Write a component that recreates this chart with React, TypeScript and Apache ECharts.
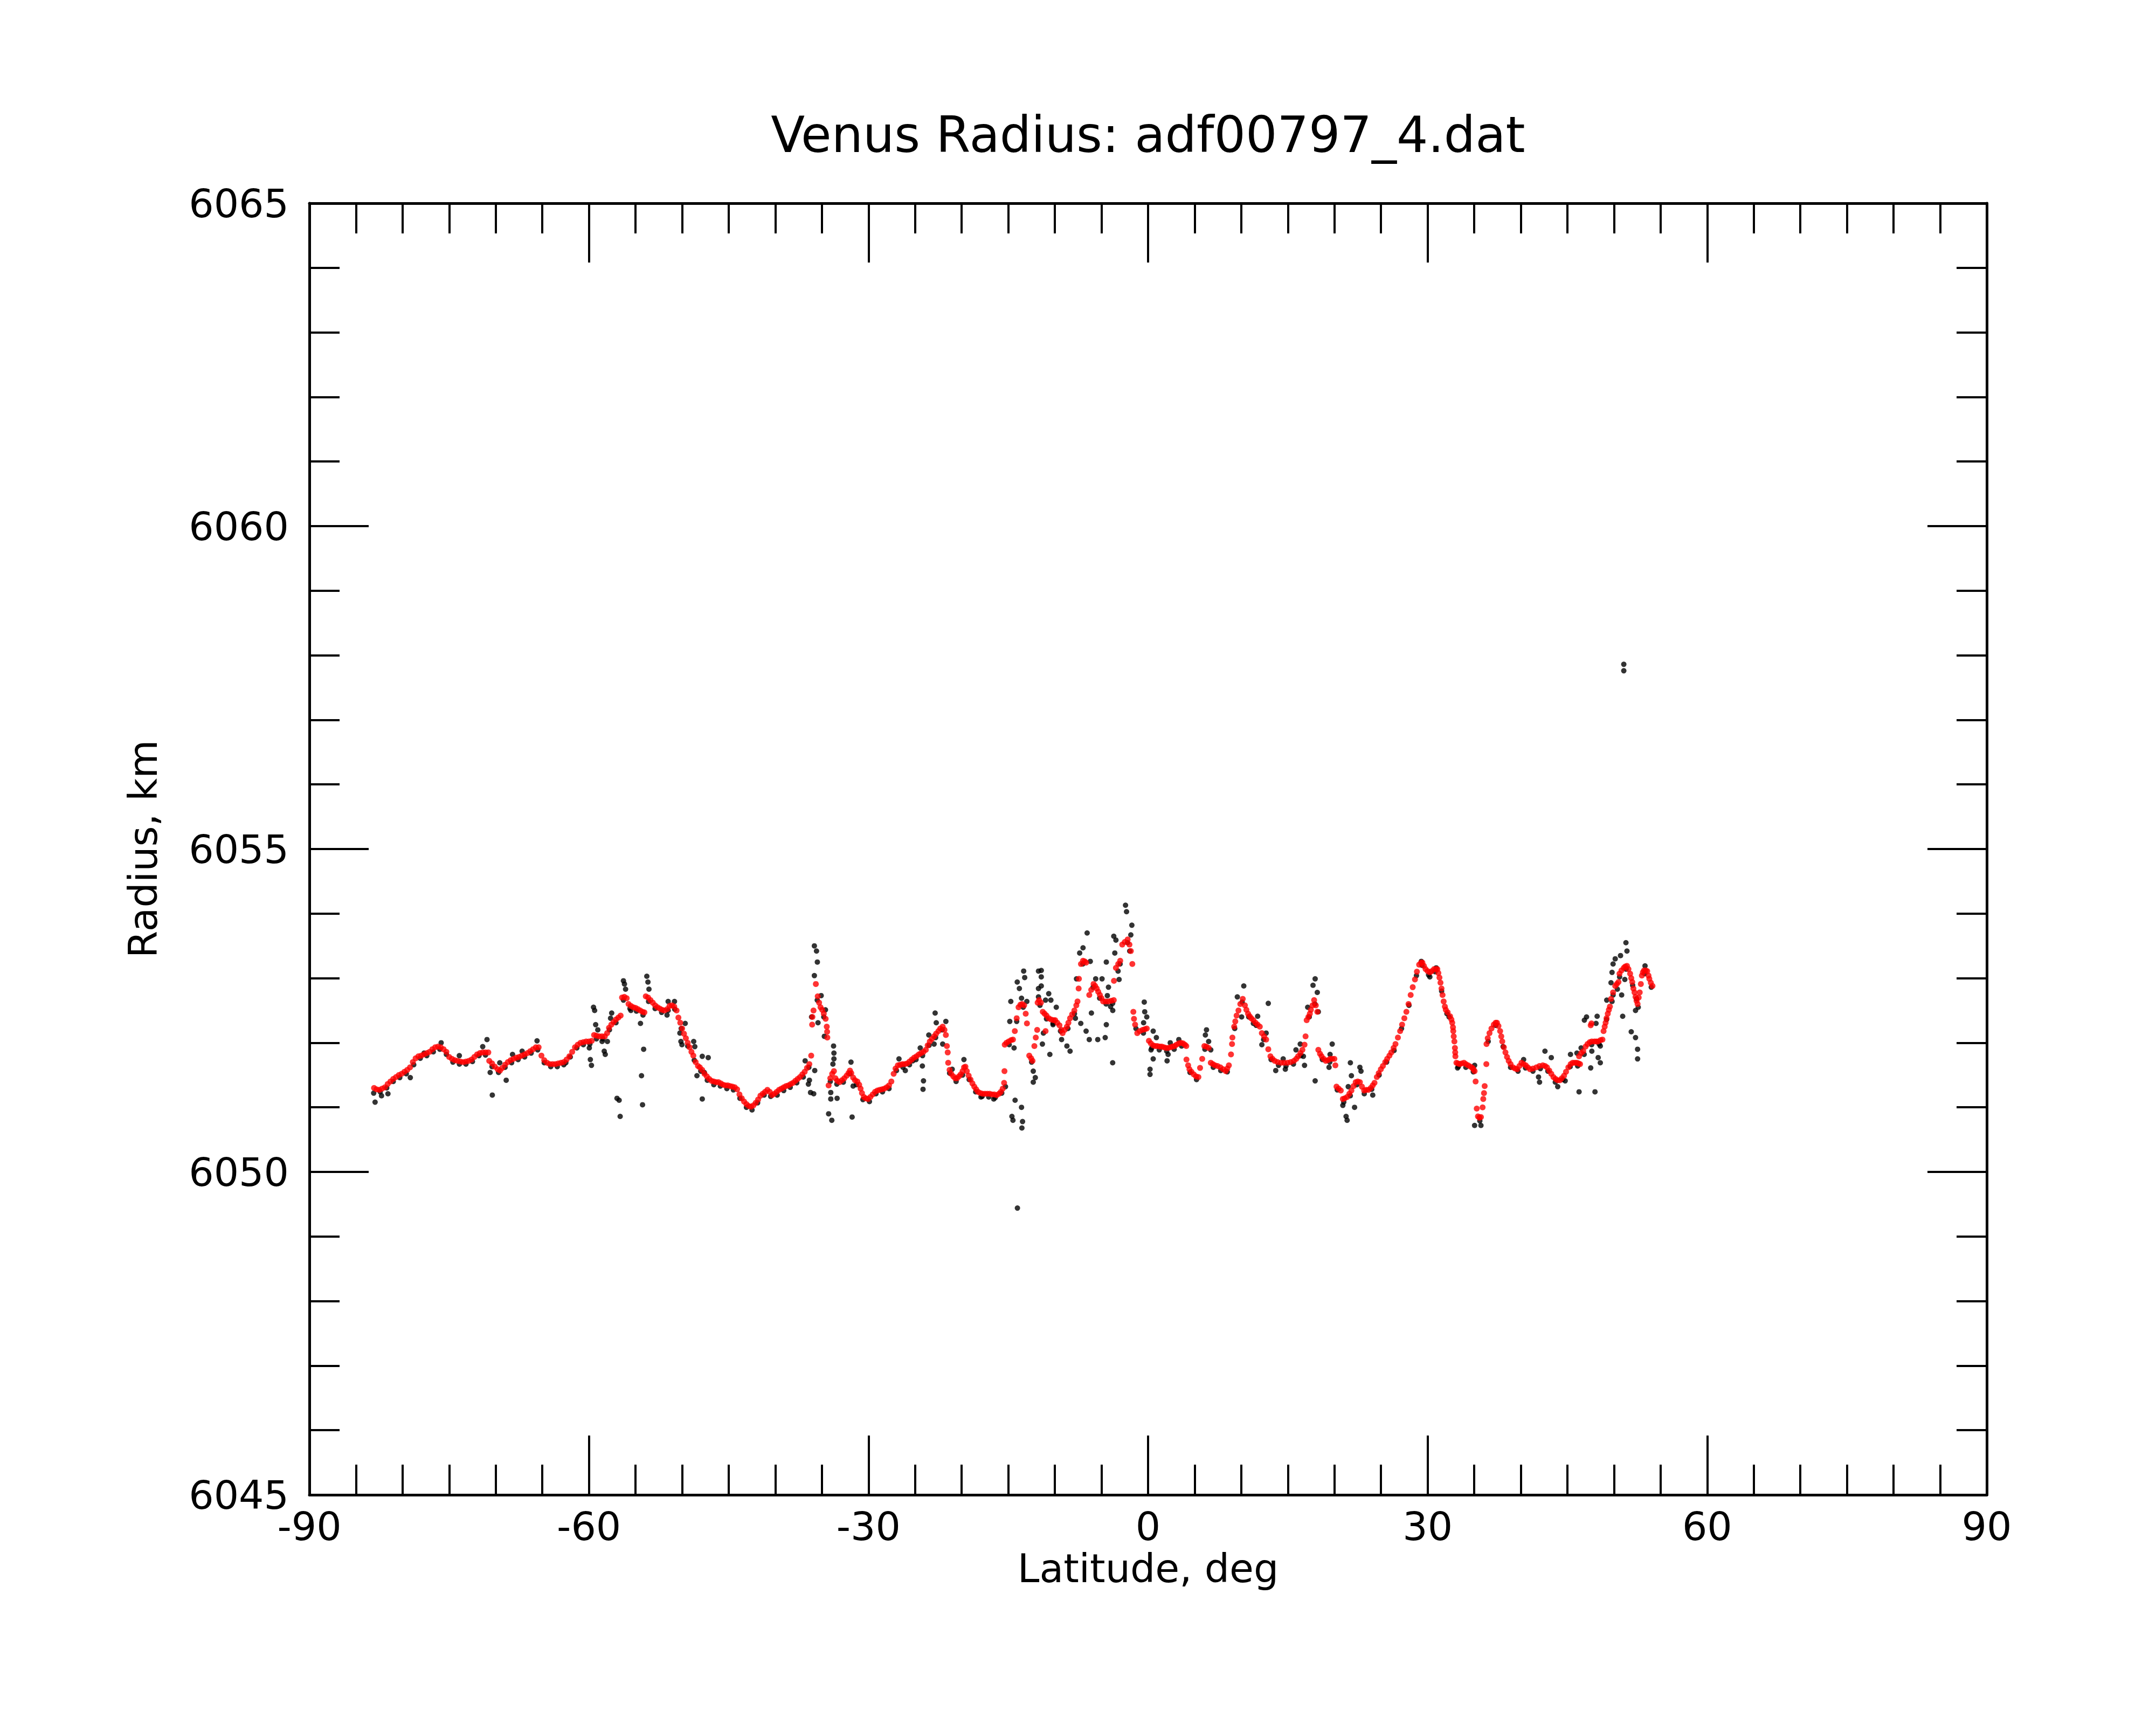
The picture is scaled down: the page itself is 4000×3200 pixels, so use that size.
import React, { useEffect, useRef } from "react";
import * as echarts from "echarts";

const W = 4000;
const H = 3200;
const FONT = '"DejaVu Sans", "Liberation Sans", sans-serif';

const chartTitle = "Venus Radius: adf00797_4.dat";
const xName = "Latitude, deg";
const yName = "Radius, km";
const xTicks = { min: -90, max: 90, step: 30, minorSplit: 6 };
const yTicks = { min: 6045, max: 6065, step: 5, minorSplit: 5 };

// Smoothed profile (red): [latitude, radius]
const redA: [number, number][] = [
  [-83.06, 6051.3], [-82.8, 6051.28], [-82.5, 6051.27], [-82.2, 6051.29], [-81.9, 6051.31], [-81.6, 6051.36],
  [-81.3, 6051.4], [-81.0, 6051.44], [-80.7, 6051.47], [-80.4, 6051.5], [-80.1, 6051.52], [-79.8, 6051.55],
  [-79.5, 6051.58], [-79.2, 6051.62], [-78.9, 6051.7], [-78.6, 6051.76], [-78.3, 6051.79], [-78.0, 6051.8],
  [-77.7, 6051.82], [-77.4, 6051.84], [-77.1, 6051.86], [-76.8, 6051.9], [-76.5, 6051.93], [-76.2, 6051.94],
  [-75.9, 6051.93], [-75.6, 6051.9], [-75.3, 6051.86], [-75.0, 6051.78], [-74.7, 6051.75], [-74.4, 6051.73],
  [-74.1, 6051.72], [-73.8, 6051.71], [-73.5, 6051.7], [-73.2, 6051.71], [-72.9, 6051.72], [-72.6, 6051.74],
  [-72.3, 6051.78], [-72.0, 6051.82], [-71.7, 6051.84], [-71.4, 6051.85], [-71.1, 6051.85], [-70.8, 6051.85],
  [-70.7, 6051.72], [-70.4, 6051.68], [-70.1, 6051.63], [-69.8, 6051.59], [-69.55, 6051.57], [-69.3, 6051.61],
  [-69.0, 6051.66], [-68.7, 6051.7], [-68.4, 6051.73], [-68.1, 6051.75], [-67.8, 6051.77], [-67.5, 6051.78],
  [-67.2, 6051.8], [-66.9, 6051.82], [-66.6, 6051.84], [-66.3, 6051.87], [-66.0, 6051.9], [-65.7, 6051.93],
  [-65.4, 6051.93], [-65.1, 6051.8], [-64.8, 6051.73], [-64.5, 6051.69], [-64.2, 6051.67], [-63.9, 6051.67],
  [-63.6, 6051.67], [-63.3, 6051.68], [-63.0, 6051.69], [-62.7, 6051.7], [-62.4, 6051.74], [-62.1, 6051.79],
  [-61.8, 6051.86], [-61.5, 6051.93], [-61.2, 6051.97], [-60.9, 6052.0], [-60.6, 6052.01], [-60.3, 6052.02],
  [-60.0, 6052.02], [-59.7, 6052.03], [-59.45, 6052.12], [-59.2, 6052.11], [-58.9, 6052.1], [-58.6, 6052.1],
  [-58.3, 6052.1], [-58.05, 6052.15], [-57.85, 6052.23], [-57.6, 6052.28], [-57.35, 6052.32], [-57.1, 6052.36],
  [-56.85, 6052.39], [-56.6, 6052.42], [-56.45, 6052.7], [-56.2, 6052.71], [-55.95, 6052.69], [-55.75, 6052.6],
  [-55.5, 6052.57], [-55.25, 6052.55], [-55.0, 6052.54], [-54.75, 6052.52], [-54.5, 6052.5], [-54.25, 6052.48],
  [-54.05, 6052.47], [-53.9, 6052.72], [-53.65, 6052.7], [-53.4, 6052.66], [-53.15, 6052.62], [-52.9, 6052.58],
  [-52.65, 6052.55], [-52.4, 6052.53], [-52.15, 6052.51], [-51.9, 6052.5], [-51.6, 6052.52], [-51.35, 6052.57],
  [-51.1, 6052.58], [-50.85, 6052.56], [-50.6, 6052.5], [-50.4, 6052.39], [-50.2, 6052.31], [-50.0, 6052.22],
  [-49.8, 6052.14], [-49.6, 6052.07], [-49.4, 6052.0], [-49.2, 6051.93], [-49.0, 6051.86], [-48.8, 6051.8],
  [-48.55, 6051.7], [-48.3, 6051.64],
];

const redB: [number, number][] = [
  [-48.1, 6051.62], [-47.85, 6051.58], [-47.6, 6051.52], [-47.35, 6051.48], [-47.1, 6051.44], [-46.85, 6051.41],
  [-46.6, 6051.4], [-46.35, 6051.39], [-46.1, 6051.39], [-45.85, 6051.37], [-45.6, 6051.35], [-45.35, 6051.34],
  [-45.1, 6051.34], [-44.85, 6051.33], [-44.6, 6051.32], [-44.35, 6051.31], [-44.1, 6051.28], [-43.85, 6051.2],
  [-43.6, 6051.14], [-43.35, 6051.09], [-43.1, 6051.05], [-42.85, 6051.02], [-42.6, 6051.01], [-42.35, 6051.03],
  [-42.1, 6051.07], [-41.85, 6051.12], [-41.6, 6051.18], [-41.35, 6051.21], [-41.1, 6051.24], [-40.85, 6051.27],
  [-40.6, 6051.24], [-40.35, 6051.19], [-40.1, 6051.21], [-39.85, 6051.24], [-39.6, 6051.27], [-39.35, 6051.29],
  [-39.1, 6051.31], [-38.85, 6051.33], [-38.6, 6051.34], [-38.35, 6051.36], [-38.1, 6051.38], [-37.85, 6051.41],
  [-37.6, 6051.44], [-37.35, 6051.47], [-37.1, 6051.51], [-36.85, 6051.55], [-36.6, 6051.61], [-36.35, 6051.67],
  [-36.15, 6051.8], [-36.05, 6052.28], [-36.02, 6052.4], [-35.9, 6052.5], [-35.65, 6052.91], [-35.45, 6052.72],
  [-35.3, 6052.62], [-35.15, 6052.55], [-34.97, 6052.51], [-34.8, 6052.45], [-34.6, 6052.37], [-34.48, 6052.25],
  [-34.44, 6052.17], [-34.42, 6052.08], [-34.28, 6051.34], [-34.1, 6051.45], [-33.9, 6051.52], [-33.71, 6051.56],
  [-33.55, 6051.45], [-33.35, 6051.41], [-33.1, 6051.39], [-32.85, 6051.42], [-32.6, 6051.45], [-32.35, 6051.49],
  [-32.15, 6051.53], [-31.99, 6051.57], [-31.85, 6051.53], [-31.65, 6051.46], [-31.45, 6051.42], [-31.2, 6051.4],
  [-31.0, 6051.35], [-30.85, 6051.29], [-30.7, 6051.22], [-30.5, 6051.16], [-30.3, 6051.14], [-30.05, 6051.13],
  [-29.8, 6051.16], [-29.55, 6051.2], [-29.3, 6051.24], [-29.05, 6051.26], [-28.8, 6051.27], [-28.55, 6051.28],
  [-28.3, 6051.29], [-28.05, 6051.31], [-27.8, 6051.34], [-27.55, 6051.4], [-27.3, 6051.52], [-27.1, 6051.6],
  [-26.85, 6051.65], [-26.6, 6051.66], [-26.35, 6051.67], [-26.1, 6051.67], [-25.85, 6051.68], [-25.6, 6051.71],
  [-25.35, 6051.74], [-25.1, 6051.77], [-24.85, 6051.79], [-24.6, 6051.82], [-24.35, 6051.84], [-24.1, 6051.86],
  [-23.85, 6051.89], [-23.65, 6051.96], [-23.42, 6052.02], [-23.2, 6052.06], [-22.96, 6052.1], [-22.75, 6052.14],
  [-22.5, 6052.18], [-22.3, 6052.22], [-22.04, 6052.25], [-21.85, 6052.2], [-21.7, 6052.12], [-21.59, 6051.95],
  [-21.5, 6051.85], [-21.45, 6051.69], [-21.3, 6051.58], [-21.13, 6051.52], [-20.9, 6051.48], [-20.7, 6051.45],
  [-20.5, 6051.45], [-20.3, 6051.48], [-20.1, 6051.51], [-19.9, 6051.56], [-19.75, 6051.62], [-19.6, 6051.63],
  [-19.45, 6051.56], [-19.25, 6051.49], [-19.05, 6051.43], [-18.85, 6051.37], [-18.65, 6051.32], [-18.45, 6051.28],
  [-18.25, 6051.24], [-18.0, 6051.22], [-17.75, 6051.21], [-17.5, 6051.21], [-17.25, 6051.21], [-17.0, 6051.21],
  [-16.75, 6051.2], [-16.5, 6051.2], [-16.25, 6051.19], [-16.0, 6051.21], [-15.8, 6051.24], [-15.6, 6051.29],
  [-15.45, 6051.38], [-15.41, 6051.56], [-15.38, 6051.97], [-15.2, 6052.0], [-14.96, 6052.02], [-14.7, 6052.04],
  [-14.5, 6052.05], [-14.3, 6052.18], [-14.1, 6052.38], [-13.9, 6052.55], [-13.7, 6052.59], [-13.5, 6052.6],
  [-13.3, 6052.58], [-13.13, 6052.45], [-13.0, 6052.3], [-12.75, 6051.8], [-12.55, 6051.76], [-12.4, 6051.72],
  [-12.2, 6051.95], [-12.05, 6052.08], [-11.9, 6052.2], [-11.85, 6052.62], [-11.7, 6052.66],
];

const redC: [number, number][] = [
  [-11.5, 6052.62], [-11.3, 6052.48], [-11.1, 6052.45], [-11.0, 6052.18], [-10.9, 6052.42], [-10.66, 6052.38],
  [-10.4, 6052.36], [-10.15, 6052.35], [-9.97, 6052.35], [-9.75, 6052.31], [-9.51, 6052.27], [-9.3, 6052.2],
  [-9.17, 6052.15], [-8.95, 6052.2], [-8.71, 6052.25], [-8.55, 6052.31], [-8.37, 6052.38], [-8.15, 6052.44],
  [-7.91, 6052.5], [-7.7, 6052.58], [-7.57, 6052.64], [-7.45, 6052.84], [-7.42, 6052.99], [-7.2, 6053.22],
  [-6.98, 6053.27], [-6.8, 6053.26], [-6.65, 6053.24], [-6.31, 6052.74], [-6.1, 6052.82], [-5.85, 6052.91],
  [-5.68, 6052.88], [-5.51, 6052.84], [-5.35, 6052.79], [-5.17, 6052.74], [-5.0, 6052.69], [-4.82, 6052.64],
  [-4.55, 6052.64], [-4.25, 6052.64], [-3.95, 6052.65], [-3.68, 6052.66], [-3.66, 6052.96], [-3.45, 6053.16],
  [-3.2, 6053.22], [-2.99, 6053.27], [-2.77, 6053.52], [-2.5, 6053.56], [-2.19, 6053.6], [-2.0, 6053.52],
  [-1.85, 6053.42], [-1.69, 6053.22], [-1.58, 6052.48], [-1.51, 6052.37], [-1.39, 6052.28], [-1.16, 6052.15],
  [-0.9, 6052.18], [-0.59, 6052.2], [-0.35, 6052.21], [-0.14, 6052.22], [0.09, 6052.03], [0.3, 6051.99],
  [0.55, 6051.96], [0.78, 6051.95], [1.0, 6051.95], [1.25, 6051.94], [1.47, 6051.94], [1.7, 6051.93],
  [1.92, 6051.92], [2.15, 6051.92], [2.4, 6051.93], [2.62, 6051.94], [2.84, 6051.95], [3.05, 6051.97],
  [3.3, 6051.99], [3.52, 6052.0], [3.75, 6051.99], [3.95, 6051.97], [4.1, 6051.95], [4.12, 6051.74],
  [4.3, 6051.65], [4.44, 6051.59], [4.65, 6051.55], [4.9, 6051.51], [5.15, 6051.48], [5.4, 6051.47],
  [5.58, 6051.61], [5.81, 6051.75], [6.04, 6051.95], [6.25, 6051.94], [6.5, 6051.92], [6.73, 6051.69],
  [6.95, 6051.67], [7.18, 6051.65], [7.45, 6051.64], [7.76, 6051.62], [8.05, 6051.59], [8.33, 6051.56],
  [8.5, 6051.6], [8.67, 6051.65], [8.9, 6051.82], [9.01, 6051.98], [9.05, 6052.08], [9.24, 6052.25],
  [9.36, 6052.33], [9.5, 6052.42], [9.7, 6052.5], [9.9, 6052.6], [10.16, 6052.68], [10.39, 6052.58],
  [10.55, 6052.51], [10.73, 6052.45], [10.9, 6052.41], [11.07, 6052.38], [11.3, 6052.35], [11.53, 6052.31],
  [11.75, 6052.28], [11.99, 6052.25], [12.21, 6052.15], [12.45, 6052.1], [12.67, 6052.05], [12.9, 6051.9],
  [13.13, 6051.79], [13.35, 6051.75], [13.59, 6051.72], [13.9, 6051.7], [14.27, 6051.69], [14.6, 6051.69],
  [14.96, 6051.69], [15.3, 6051.7], [15.65, 6051.72], [15.9, 6051.75], [16.1, 6051.79], [16.35, 6051.84],
  [16.56, 6051.89], [16.79, 6051.97], [16.9, 6052.1], [17.02, 6052.35], [17.2, 6052.4], [17.36, 6052.45],
  [17.47, 6052.51], [17.65, 6052.58], [17.82, 6052.66], [18.0, 6052.58], [18.16, 6052.48], [18.27, 6051.89],
  [18.45, 6051.83], [18.62, 6051.79], [18.85, 6051.75], [19.07, 6051.72], [19.3, 6051.73], [19.53, 6051.75],
  [19.75, 6051.75], [19.99, 6051.75], [20.1, 6051.65], [20.22, 6051.32], [20.45, 6051.29], [20.68, 6051.26],
  [20.9, 6051.13], [21.1, 6051.14], [21.36, 6051.16], [21.6, 6051.21], [21.82, 6051.26], [22.05, 6051.33],
  [22.28, 6051.39], [22.5, 6051.4], [22.73, 6051.39], [22.95, 6051.32], [23.19, 6051.26], [23.4, 6051.27],
  [23.65, 6051.27], [23.9, 6051.3], [24.11, 6051.34],
];

const redD: [number, number][] = [
  [24.3, 6051.38], [24.55, 6051.47], [24.75, 6051.53], [24.98, 6051.59], [25.2, 6051.64], [25.45, 6051.7],
  [25.66, 6051.75], [25.9, 6051.8], [26.1, 6051.85], [26.35, 6051.92], [26.55, 6051.98], [26.81, 6052.08],
  [27.05, 6052.18], [27.26, 6052.28], [27.5, 6052.38], [27.72, 6052.48], [27.95, 6052.6], [28.18, 6052.74],
  [28.4, 6052.86], [28.64, 6052.98], [28.85, 6053.1], [29.09, 6053.21], [29.3, 6053.24], [29.44, 6053.24],
  [29.6, 6053.19], [29.78, 6053.14], [30.0, 6053.11], [30.24, 6053.09], [30.45, 6053.11], [30.69, 6053.14],
  [30.9, 6053.14], [31.04, 6053.14], [31.15, 6053.08], [31.27, 6053.01], [31.38, 6052.93], [31.49, 6052.84],
  [31.6, 6052.74], [31.72, 6052.64], [31.85, 6052.56], [31.95, 6052.51], [32.15, 6052.47], [32.41, 6052.41],
  [32.55, 6052.36], [32.64, 6052.31], [32.72, 6052.24], [32.75, 6052.18], [32.8, 6052.1], [32.87, 6052.02],
  [32.93, 6051.92], [32.96, 6051.85], [32.98, 6051.79], [33.09, 6051.69], [33.25, 6051.68], [33.44, 6051.67],
  [33.65, 6051.68], [33.9, 6051.69], [34.1, 6051.67], [34.35, 6051.65], [34.6, 6051.63], [34.8, 6051.61],
  [34.92, 6051.59], [35.04, 6051.56], [35.15, 6051.4], [35.27, 6050.98], [35.4, 6050.86], [35.55, 6050.84],
  [35.72, 6050.85], [35.9, 6051.0], [35.97, 6051.13], [36.05, 6051.22], [36.12, 6051.33], [36.3, 6051.67],
  [36.32, 6051.98], [36.45, 6052.07], [36.64, 6052.15], [36.85, 6052.22], [37.1, 6052.28], [37.3, 6052.31],
  [37.44, 6052.31], [37.6, 6052.26], [37.78, 6052.18], [37.9, 6052.1], [38.01, 6052.02], [38.18, 6051.93],
  [38.35, 6051.85], [38.52, 6051.78], [38.7, 6051.72], [38.9, 6051.67], [39.16, 6051.62], [39.4, 6051.6],
  [39.61, 6051.59], [39.85, 6051.64], [40.07, 6051.69], [40.3, 6051.67], [40.53, 6051.65], [40.75, 6051.62],
  [40.99, 6051.59], [41.3, 6051.6], [41.67, 6051.62], [42.0, 6051.64], [42.36, 6051.65], [42.6, 6051.64],
  [42.81, 6051.62], [43.05, 6051.57], [43.27, 6051.52], [43.5, 6051.47], [43.73, 6051.44], [43.95, 6051.42],
  [44.19, 6051.42], [44.4, 6051.45], [44.64, 6051.49], [44.85, 6051.55], [45.1, 6051.62], [45.35, 6051.67],
  [45.56, 6051.69], [45.8, 6051.69], [46.02, 6051.69], [46.2, 6051.68], [46.36, 6051.67], [46.25, 6051.79],
  [46.48, 6051.84], [46.7, 6051.87], [46.95, 6051.94], [47.16, 6051.98], [47.4, 6052.01], [47.5, 6052.27],
  [47.58, 6052.3], [47.62, 6052.02], [47.9, 6052.02], [48.1, 6052.02], [48.3, 6052.02], [48.55, 6052.04],
  [48.76, 6052.05], [48.88, 6052.18], [49.0, 6052.25], [49.1, 6052.31], [49.2, 6052.38], [49.33, 6052.45],
  [49.45, 6052.51], [49.56, 6052.56], [49.68, 6052.68], [49.9, 6052.78], [50.13, 6052.88], [50.3, 6052.91],
  [50.48, 6052.94], [50.59, 6053.07], [50.8, 6053.12], [51.05, 6053.16], [51.2, 6053.18], [51.39, 6053.19],
  [51.55, 6053.14], [51.73, 6053.07], [51.85, 6053.0], [51.96, 6052.94], [52.08, 6052.84], [52.2, 6052.78],
  [52.31, 6052.71], [52.42, 6052.65], [52.53, 6052.6], [52.65, 6052.7], [52.76, 6052.78], [52.88, 6052.91],
  [52.99, 6053.04], [53.1, 6053.09], [53.22, 6053.12], [53.4, 6053.12], [53.56, 6053.11], [53.7, 6053.04],
  [53.79, 6052.99], [53.95, 6052.93], [54.13, 6052.88],
];

// Raw measurements (black) lying under the smoothed profile
const blackTrack: [number, number][] = [
  [-83.1, 6051.22], [-82.4, 6051.24], [-81.7, 6051.3], [-81.0, 6051.4], [-80.3, 6051.46], [-79.6, 6051.52],
  [-78.8, 6051.66], [-78.1, 6051.76], [-77.4, 6051.8], [-76.7, 6051.86], [-76.0, 6051.9], [-75.3, 6051.82],
  [-74.6, 6051.7], [-73.9, 6051.67], [-73.2, 6051.67], [-72.5, 6051.71], [-71.8, 6051.8], [-71.1, 6051.81],
  [-70.4, 6051.63], [-69.7, 6051.54], [-69.0, 6051.62], [-68.3, 6051.69], [-67.6, 6051.74], [-66.9, 6051.78],
  [-66.2, 6051.84], [-65.5, 6051.89], [-64.8, 6051.69], [-64.1, 6051.63], [-63.4, 6051.63], [-62.7, 6051.66],
  [-62.0, 6051.78], [-61.3, 6051.92], [-60.6, 6051.97], [-59.9, 6051.98], [-59.2, 6052.06], [-58.5, 6052.06],
  [-57.8, 6052.2], [-57.1, 6052.31], [-56.3, 6052.66], [-55.6, 6052.53], [-54.9, 6052.49], [-54.2, 6052.43],
  [-53.6, 6052.64], [-52.9, 6052.53], [-52.2, 6052.47], [-51.5, 6052.5], [-50.8, 6052.52], [-50.1, 6052.22],
  [-49.4, 6051.95], [-48.7, 6051.73], [-48.0, 6051.56], [-47.3, 6051.42], [-46.6, 6051.35], [-45.9, 6051.33],
  [-45.2, 6051.29], [-44.5, 6051.27], [-43.8, 6051.14], [-43.1, 6051.0], [-42.5, 6050.96], [-41.9, 6051.07],
  [-41.2, 6051.19], [-40.5, 6051.17], [-39.8, 6051.19], [-39.1, 6051.26], [-38.4, 6051.31], [-37.7, 6051.38],
  [-37.0, 6051.47], [-36.4, 6051.62], [-35.5, 6052.66], [-34.8, 6052.4], [-34.1, 6051.4], [-33.4, 6051.36],
  [-32.7, 6051.39], [-32.0, 6051.52], [-31.3, 6051.35], [-30.6, 6051.12], [-29.9, 6051.09], [-29.2, 6051.21],
  [-28.5, 6051.24], [-27.8, 6051.29], [-27.0, 6051.57], [-26.3, 6051.62], [-25.6, 6051.66], [-24.9, 6051.74],
  [-24.2, 6051.8], [-23.5, 6051.96], [-22.8, 6052.08], [-22.1, 6052.2], [-21.3, 6051.53], [-20.6, 6051.4],
  [-19.9, 6051.5], [-19.2, 6051.43], [-18.5, 6051.24], [-17.8, 6051.17], [-17.1, 6051.16], [-16.4, 6051.15],
  [-15.7, 6051.22], [-14.9, 6051.97], [-14.1, 6052.33], [-13.4, 6052.55], [-12.5, 6051.7], [-11.6, 6052.58],
  [-10.9, 6052.37], [-10.2, 6052.3], [-9.4, 6052.18], [-8.6, 6052.22], [-7.9, 6052.45], [-7.0, 6053.22],
  [-5.9, 6052.86], [-5.2, 6052.69], [-4.5, 6052.6], [-3.8, 6052.61], [-3.0, 6053.22], [-2.2, 6053.55],
  [-1.3, 6052.22], [-0.5, 6052.15], [0.4, 6051.92], [1.2, 6051.89], [2.0, 6051.87], [2.8, 6051.9],
  [3.6, 6051.95], [4.5, 6051.54], [5.2, 6051.43], [6.1, 6051.9], [7.0, 6051.62], [7.8, 6051.57],
  [8.5, 6051.55], [9.3, 6052.22], [10.1, 6052.63], [10.8, 6052.4], [11.6, 6052.27], [12.4, 6052.05],
  [13.2, 6051.74], [14.0, 6051.65], [14.8, 6051.64], [15.6, 6051.67], [16.4, 6051.8], [17.3, 6052.4],
  [17.9, 6052.6], [18.7, 6051.74], [19.5, 6051.7], [20.3, 6051.27], [21.0, 6051.08], [21.7, 6051.18],
  [22.4, 6051.35], [23.2, 6051.21], [24.0, 6051.28], [24.8, 6051.5], [25.6, 6051.7], [26.4, 6051.88],
  [27.2, 6052.22], [28.0, 6052.58], [28.8, 6053.04], [29.4, 6053.2], [30.1, 6053.05], [30.8, 6053.1],
  [31.5, 6052.8], [32.3, 6052.4], [33.3, 6051.63], [34.1, 6051.62], [34.9, 6051.55], [35.6, 6050.79],
  [36.5, 6052.02], [37.3, 6052.27], [38.1, 6051.94], [38.9, 6051.62], [39.7, 6051.56], [40.5, 6051.61],
  [41.3, 6051.56], [42.1, 6051.6], [42.9, 6051.56], [43.7, 6051.39], [44.5, 6051.43], [45.3, 6051.63],
  [46.1, 6051.64], [46.8, 6051.82], [47.6, 6051.97], [48.4, 6051.98], [49.2, 6052.36], [49.9, 6052.74],
  [50.6, 6053.02], [51.3, 6053.14], [52.0, 6052.89], [52.6, 6052.55], [53.3, 6053.07], [54.0, 6052.86],
];

// Raw measurements (black) scattered away from the profile
const blackOutA: [number, number][] = [
  [-82.95, 6051.08], [-82.26, 6051.18], [-81.57, 6051.21], [-79.17, 6051.46], [-77.69, 6051.84], [-75.86, 6052.0],
  [-73.91, 6051.8], [-70.94, 6052.05], [-71.4, 6051.94], [-70.6, 6051.54], [-70.37, 6051.19], [-69.57, 6051.69],
  [-68.88, 6051.42], [-68.2, 6051.82], [-67.17, 6051.87], [-65.57, 6052.03], [-62.48, 6051.69], [-59.51, 6052.55],
  [-59.39, 6052.5], [-59.28, 6052.28], [-59.05, 6052.2], [-59.96, 6051.92], [-59.85, 6051.74], [-59.73, 6051.65],
  [-58.59, 6052.02], [-58.36, 6051.87], [-58.25, 6051.82], [-58.02, 6052.02], [-57.56, 6052.46], [-57.68, 6052.38],
  [-56.99, 6051.14], [-56.76, 6051.11], [-56.65, 6050.86], [-56.3, 6052.96], [-56.19, 6052.91], [-56.07, 6052.83],
  [-55.5, 6052.5], [-54.47, 6052.3], [-54.13, 6051.9], [-54.36, 6051.49], [-54.25, 6051.04], [-53.79, 6053.03],
  [-53.67, 6052.94], [-53.56, 6052.83], [-51.5, 6052.64], [-50.82, 6052.64], [-51.62, 6052.43], [-49.67, 6052.3],
  [-50.24, 6052.15], [-50.13, 6052.02], [-50.02, 6051.97], [-48.76, 6052.02], [-48.64, 6051.94], [-48.41, 6051.49],
  [-47.84, 6051.13], [-47.84, 6051.79], [-47.62, 6051.54],
];

const blackOutB: [number, number][] = [
  [-47.2, 6051.77], [-36.8, 6051.72], [-36.34, 6051.42], [-36.45, 6051.36], [-36.22, 6051.23], [-35.88, 6051.21],
  [-35.77, 6051.57], [-35.81, 6053.5], [-35.58, 6053.42], [-35.49, 6053.25], [-35.81, 6053.04], [-35.08, 6052.73],
  [-34.62, 6052.51], [-35.42, 6052.31], [-36.11, 6052.4], [-34.74, 6052.1], [-33.75, 6051.95], [-33.71, 6051.84],
  [-33.71, 6051.75], [-33.82, 6051.67], [-34.05, 6051.23], [-34.05, 6051.13], [-33.37, 6051.14], [-34.28, 6050.9],
  [-33.94, 6050.8], [-31.76, 6050.85], [-31.88, 6051.7], [-31.65, 6051.33], [-26.73, 6051.75], [-26.05, 6051.57],
  [-25.25, 6051.72], [-24.45, 6051.92], [-24.22, 6051.64], [-24.1, 6051.41], [-24.15, 6051.28], [-23.53, 6052.12],
  [-22.96, 6051.98], [-22.85, 6052.46], [-22.73, 6052.31], [-21.7, 6052.33], [-22.04, 6051.98], [-21.02, 6051.59],
  [-19.76, 6051.74], [-17.93, 6051.16], [-16.56, 6051.13], [-15.3, 6051.32], [-14.84, 6052.33], [-14.38, 6051.92],
  [-14.27, 6051.11], [-14.61, 6050.86], [-14.5, 6050.8], [-13.58, 6051.0], [-13.47, 6050.78], [-13.54, 6050.68],
  [-14.02, 6049.44], [-14.73, 6052.64], [-14.04, 6052.94], [-13.81, 6052.84], [-13.58, 6052.69], [-13.35, 6053.11],
  [-13.24, 6053.01], [-13.01, 6052.64], [-12.32, 6051.56], [-12.32, 6051.39], [-12.1, 6051.46], [-11.76, 6053.11],
  [-11.76, 6052.84], [-11.76, 6052.71],
];

const blackOutC: [number, number][] = [
  [-11.46, 6053.12], [-11.46, 6053.02], [-11.46, 6052.88], [-10.66, 6052.76], [-10.43, 6052.66], [-11.0, 6052.66],
  [-11.23, 6052.15], [-11.34, 6051.98], [-10.54, 6051.82], [-9.85, 6052.55], [-10.2, 6052.28], [-9.28, 6052.05],
  [-8.71, 6051.95], [-8.37, 6051.87], [-7.8, 6052.38], [-7.22, 6052.3], [-6.65, 6052.18], [-6.31, 6052.05],
  [-6.08, 6052.46], [-5.4, 6052.05], [-4.6, 6052.08], [-4.48, 6052.28], [-3.8, 6051.69], [-7.68, 6052.99],
  [-7.34, 6053.39], [-6.98, 6053.47], [-6.54, 6053.7], [-6.2, 6053.26], [-5.62, 6052.99], [-4.94, 6052.99],
  [-4.25, 6052.86], [-4.37, 6052.73], [-4.02, 6052.56], [-3.79, 6052.5], [-4.48, 6053.25], [-3.68, 6053.65],
  [-3.45, 6053.59], [-3.57, 6053.39], [-3.22, 6053.11], [-3.11, 6052.98], [-2.42, 6054.13], [-2.31, 6054.03],
  [-1.74, 6053.82], [-1.85, 6053.67], [-1.97, 6053.42], [-0.41, 6052.63], [-0.36, 6052.48], [-0.14, 6052.4],
  [-0.48, 6052.31], [0.55, 6052.18], [0.89, 6052.08], [0.32, 6051.89], [0.55, 6051.75], [0.21, 6051.59],
  [0.21, 6051.51], [2.04, 6051.72], [2.15, 6051.82], [2.38, 6052.0], [3.3, 6052.05], [6.27, 6052.2],
  [6.15, 6052.12], [6.5, 6052.02], [6.73, 6051.89], [10.27, 6052.88], [9.58, 6052.71], [10.04, 6052.4],
  [11.3, 6052.3], [11.76, 6052.41], [12.21, 6051.97], [12.67, 6052.15], [12.9, 6052.61], [13.7, 6051.57],
  [14.5, 6051.75], [14.73, 6051.59], [15.87, 6051.89], [16.33, 6051.98], [16.67, 6051.79], [16.79, 6051.65],
  [17.13, 6052.55], [17.7, 6052.89], [17.93, 6052.99], [18.16, 6052.78], [18.27, 6052.48], [17.93, 6051.41],
  [19.42, 6051.62], [19.76, 6051.98], [19.53, 6051.82], [21.71, 6051.69], [21.48, 6051.32], [21.82, 6051.49],
  [22.73, 6051.62], [22.85, 6051.56], [21.25, 6050.86], [21.36, 6050.8], [20.9, 6051.03], [22.16, 6051.0],
  [24.11, 6051.19],
];

const blackOutD: [number, number][] = [
  [29.32, 6053.26], [30.24, 6053.02], [30.92, 6053.16], [32.07, 6052.45], [33.21, 6051.61], [35.04, 6051.65],
  [35.04, 6050.72], [35.72, 6050.72], [40.3, 6051.74], [41.9, 6051.47], [42.01, 6051.39], [42.59, 6051.87],
  [43.27, 6051.77], [43.96, 6051.32], [44.76, 6051.41], [45.33, 6051.82], [46.02, 6051.84], [46.25, 6051.24],
  [46.47, 6051.92], [47.05, 6052.4], [46.82, 6052.35], [48.19, 6052.41], [48.07, 6052.3], [47.5, 6051.61],
  [47.62, 6051.87], [47.96, 6051.24], [48.3, 6051.77], [48.53, 6051.69], [48.53, 6051.95], [49.22, 6052.66],
  [49.79, 6052.64], [49.68, 6052.93], [49.9, 6053.22], [49.79, 6053.09], [50.13, 6053.3], [50.7, 6053.35],
  [51.28, 6053.55], [51.39, 6053.42], [50.36, 6052.83], [50.82, 6052.74], [50.93, 6052.41], [51.16, 6052.98],
  [51.85, 6052.17], [52.31, 6052.08], [52.53, 6051.9], [52.53, 6051.75], [52.31, 6052.5], [53.33, 6053.19],
  [52.42, 6052.68], [51.05, 6057.86], [51.05, 6057.76],
];

const numLabel = (v: number) => String(v);

function makeAxis(kind: "x" | "y", position: string, primary: boolean) {
  const t = kind === "x" ? xTicks : yTicks;
  const ax: any = {
    type: "value",
    position,
    min: t.min,
    max: t.max,
    interval: t.step,
    splitLine: { show: false },
    minorSplitLine: { show: false },
    axisLine: { show: true, onZero: false, lineStyle: { color: "#000", width: 5 } },
    axisTick: { show: true, inside: true, length: 110, lineStyle: { color: "#000", width: 4 } },
    minorTick: { show: true, splitNumber: t.minorSplit, length: 56, lineStyle: { color: "#000", width: 4 } },
    axisLabel: {
      show: primary,
      margin: kind === "x" ? 22 : 38,
      fontSize: 73,
      fontFamily: FONT,
      color: "#000",
      formatter: numLabel,
      showMinLabel: true,
      showMaxLabel: true,
    },
  };
  if (primary) {
    ax.name = kind === "x" ? xName : yName;
    ax.nameLocation = "middle";
    ax.nameGap = kind === "x" ? 94 : 272;
    ax.nameTextStyle = { fontSize: 73, fontFamily: FONT, color: "#000" };
  }
  return ax;
}

export default function App() {
  const ref = useRef<HTMLDivElement>(null);
  useEffect(() => {
    if (!ref.current) return;
    const chart = echarts.init(ref.current, null, { renderer: "svg", width: W, height: H });
    const black = [...blackTrack, ...blackOutA, ...blackOutB, ...blackOutC, ...blackOutD];
    const red = [...redA, ...redB, ...redC, ...redD];
    chart.setOption({
      animation: false,
      backgroundColor: "#ffffff",
      textStyle: { fontFamily: FONT },
      grid: { left: 574, top: 377, width: 3112, height: 2396, containLabel: false },
      xAxis: [makeAxis("x", "bottom", true), makeAxis("x", "top", false)],
      yAxis: [makeAxis("y", "left", true), makeAxis("y", "right", false)],
      graphic: [
        {
          type: "text",
          x: 2130,
          y: 250,
          silent: true,
          style: {
            text: chartTitle,
            fontSize: 92,
            fontFamily: FONT,
            fill: "#000",
            align: "center",
            verticalAlign: "middle",
            textAlign: "center",
            textVerticalAlign: "middle",
          },
        },
      ],
      series: [
        {
          type: "scatter",
          name: "raw",
          xAxisIndex: 0,
          yAxisIndex: 0,
          data: black,
          symbol: "circle",
          symbolSize: 10,
          itemStyle: { color: "#000000" },
          silent: true,
          z: 2,
        },
        {
          type: "scatter",
          name: "smoothed",
          xAxisIndex: 0,
          yAxisIndex: 0,
          data: red,
          symbol: "circle",
          symbolSize: 11,
          itemStyle: { color: "#ff0000" },
          silent: true,
          z: 3,
        },
      ],
    });
    return () => chart.dispose();
  }, []);
  return (
    <div
      ref={ref}
      style={{ position: "absolute", left: 0, top: 0, width: W, height: H, background: "#fff" }}
    />
  );
}
